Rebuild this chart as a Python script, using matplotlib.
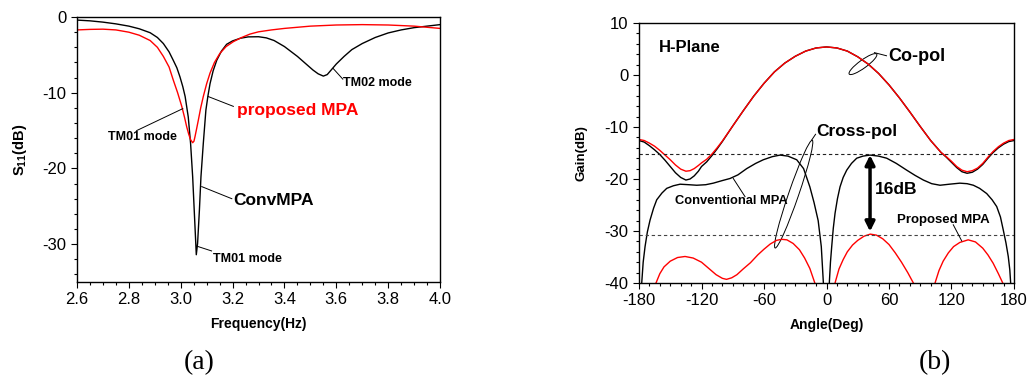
import matplotlib
matplotlib.use("Agg")
import matplotlib.pyplot as plt
from matplotlib.patches import Ellipse
from matplotlib.transforms import ScaledTranslation
from matplotlib.ticker import MultipleLocator, FormatStrFormatter

plt.rcParams["font.family"] = ["Liberation Sans", "DejaVu Sans"]
plt.rcParams["axes.unicode_minus"] = False
plt.rcParams["mathtext.fontset"] = "custom"
plt.rcParams["mathtext.rm"] = "Liberation Sans:bold"
plt.rcParams["mathtext.bf"] = "Liberation Sans:bold"

# ---- (a) S11 vs frequency ----
conv_f = [2.60, 2.65, 2.70, 2.75, 2.80, 2.84, 2.882, 2.91, 2.933, 2.955, 2.971, 2.985,
          2.997, 3.008, 3.017, 3.029, 3.038, 3.046, 3.052, 3.058, 3.060, 3.065, 3.072,
          3.078, 3.087, 3.097, 3.105, 3.113, 3.125, 3.139, 3.157, 3.177, 3.20, 3.23,
          3.26, 3.30, 3.33, 3.36, 3.40, 3.45, 3.48, 3.51, 3.53, 3.55, 3.565, 3.58,
          3.60, 3.63, 3.66, 3.70, 3.75, 3.80, 3.85, 3.90, 3.95, 4.00]
conv_s11 = [-0.4, -0.5, -0.67, -0.9, -1.2, -1.55, -2.07, -2.7, -3.5, -4.6, -5.7, -6.7,
            -7.9, -9.2, -10.5, -13.2, -16.7, -21.1, -25.5, -29.9, -31.4, -29.9, -25.5,
            -21.1, -16.7, -12.3, -10.4, -8.8, -7.1, -5.7, -4.5, -3.6, -3.15, -2.8,
            -2.62, -2.6, -2.75, -3.1, -3.9, -5.2, -6.1, -7.0, -7.5, -7.8, -7.6, -7.0,
            -6.2, -5.2, -4.3, -3.5, -2.7, -2.1, -1.7, -1.4, -1.2, -1.0]

prop_f = [2.60, 2.65, 2.70, 2.75, 2.80, 2.84, 2.882, 2.91, 2.933, 2.955, 2.971, 2.988,
          3.004, 3.015, 3.023, 3.031, 3.038, 3.046, 3.051, 3.055, 3.061, 3.068, 3.077,
          3.087, 3.10, 3.113, 3.13, 3.151, 3.175, 3.203, 3.235, 3.267, 3.30, 3.35,
          3.40, 3.45, 3.50, 3.60, 3.70, 3.80, 3.90, 4.00]
prop_s11 = [-1.7, -1.63, -1.6, -1.7, -2.0, -2.4, -3.1, -4.0, -5.2, -6.6, -8.3, -10.0,
            -11.8, -13.3, -14.5, -15.5, -16.2, -16.6, -16.4, -15.8, -14.8, -13.6, -12.0,
            -10.5, -8.8, -7.4, -6.0, -4.8, -3.9, -3.25, -2.7, -2.25, -1.95, -1.7,
            -1.5, -1.35, -1.2, -1.05, -1.0, -1.05, -1.2, -1.5]

# ---- (b) H-plane pattern ----
co_ang = [-180, -175, -170, -165, -160, -155, -150, -145, -140, -135, -131, -127, -123,
          -120, -115, -110, -105, -100, -90, -80, -70, -60, -50, -40, -30, -20, -10,
          0, 10, 20, 30, 40, 50, 60, 70, 80, 90, 100, 110, 115, 120, 125, 130, 135,
          140, 145, 150, 155, 160, 165, 170, 175, 180]
co_conv = [-12.6, -12.9, -13.6, -14.4, -15.3, -16.4, -17.6, -18.8, -19.7, -20.2, -20.0,
           -19.4, -18.5, -17.6, -16.7, -15.5, -14.2, -12.8, -9.8, -6.9, -4.1, -1.6,
           0.6, 2.3, 3.6, 4.6, 5.2, 5.4, 5.2, 4.6, 3.5, 2.1, 0.3, -1.9, -4.4, -7.1,
           -9.9, -12.6, -14.9, -15.8, -16.8, -17.8, -18.6, -18.9, -18.7, -18.1, -17.2,
           -16.0, -14.9, -14.0, -13.3, -12.8, -12.6]
co_prop = [-12.4, -12.6, -13.1, -13.7, -14.5, -15.4, -16.3, -17.3, -18.1, -18.5, -18.4,
           -18.0, -17.4, -16.9, -16.2, -15.2, -14.0, -12.7, -9.8, -6.9, -4.1, -1.6,
           0.6, 2.3, 3.6, 4.6, 5.2, 5.4, 5.2, 4.6, 3.5, 2.1, 0.3, -1.9, -4.4, -7.1,
           -9.9, -12.6, -14.9, -15.7, -16.6, -17.6, -18.3, -18.6, -18.4, -17.9, -17.0,
           -15.8, -14.7, -13.8, -13.1, -12.6, -12.4]

xc_ang_1 = [-177.4, -176, -174.2, -172, -169.4, -166, -163, -158, -153.4, -147, -140.6,
            -132, -124.6, -116, -108.7, -100, -92.6, -85, -76.6, -68, -60.7, -52,
            -44.6, -37, -28.6, -22, -16, -12, -8, -5, -3]
xc_conv_1 = [-40, -36, -33.0, -30.2, -27.9, -25.6, -24.0, -22.7, -21.8, -21.3, -21.0,
             -21.1, -21.2, -21.1, -20.8, -20.3, -19.9, -19.2, -18.0, -17.0, -16.3, -15.7,
             -15.4, -15.6, -16.3, -18.0, -21.5, -24.5, -28, -33, -40]
xc_ang_2 = [2.7, 3.8, 5.0, 6.5, 8.2, 10.5, 13, 16, 19.4, 24, 29, 35, 41.8, 50, 57.8,
            67, 77, 85, 93, 101, 109, 118, 128, 135, 141, 147, 153.8, 159, 163.4, 167,
            169.7, 172.3, 174.5, 176, 176.8]
xc_conv_2 = [-40, -36, -33.0, -29.5, -26.6, -23.8, -21.5, -19.7, -18.3, -17.0, -16.0,
             -15.6, -15.4, -15.6, -16.0, -17.0, -18.3, -19.3, -20.2, -20.9, -21.2, -21.0,
             -20.8, -20.9, -21.2, -21.8, -22.8, -24.0, -25.3, -27.3, -29.8, -32.3, -34.9,
             -37.5, -40]

xp_ang_1 = [-163.7, -160, -156, -150, -143, -135.8, -128, -120, -113, -106, -100, -96,
            -91, -86, -80, -73, -66, -60, -54, -48, -43, -38, -32, -26, -21, -16, -11.2]
xp_prop_1 = [-40, -38.2, -36.9, -35.8, -35.1, -34.9, -35.2, -36.0, -37.2, -38.4, -39.1,
             -39.3, -39.0, -38.4, -37.3, -36.1, -34.6, -33.5, -32.5, -31.8, -31.6, -31.7,
             -32.4, -33.6, -35.2, -37.2, -40]
xp_ang_2 = [8.2, 12, 16, 20, 25, 30, 36, 42, 48, 54, 60, 66, 72, 78, 83.4]
xp_prop_2 = [-40, -37.3, -35.5, -34.0, -32.7, -31.8, -31.0, -30.6, -30.8, -31.5, -32.6,
             -34.2, -36.0, -38.0, -40]
xp_ang_3 = [104.2, 108, 112, 117, 122, 128, 136, 143, 150, 155, 160, 165, 169.2]
xp_prop_3 = [-40, -37.6, -35.8, -34.2, -33.0, -32.2, -31.7, -32.1, -33.3, -34.6, -36.2,
             -38.2, -40]

ref_levels = [-15.2, -30.8]

fig = plt.figure(figsize=(10.31, 3.79), dpi=100)
ax1 = fig.add_axes([0.0747, 0.256, 0.3521, 0.699])
ax2 = fig.add_axes([0.6198, 0.2533, 0.3637, 0.6860])

lw = 1.0
ax1.plot(conv_f, conv_s11, color="black", lw=lw)
ax1.plot(prop_f, prop_s11, color="red", lw=lw)
ax1.set_xlim(2.6, 4.0)
ax1.set_ylim(-35, 0)
ax1.xaxis.set_major_locator(MultipleLocator(0.2))
ax1.xaxis.set_minor_locator(MultipleLocator(0.05))
ax1.xaxis.set_major_formatter(FormatStrFormatter("%.1f"))
ax1.yaxis.set_major_locator(MultipleLocator(10))
ax1.yaxis.set_minor_locator(MultipleLocator(2))
ax1.set_xlabel("Frequency(Hz)", fontsize=10, fontweight="bold", labelpad=7)
ax1.set_ylabel("S$_{11}$(dB)", fontsize=10.5, fontweight="bold", labelpad=10)

bold = dict(fontweight="bold", va="center", ha="left")
line = dict(color="black", lw=0.7)
ax1.plot([3.588, 3.625], [-6.8, -8.2], **line)
ax1.text(3.625, -8.7, "TM02 mode", fontsize=9, **bold)
ax1.plot([3.106, 3.203], [-10.5, -11.8], **line)
ax1.text(3.218, -12.4, "proposed MPA", fontsize=12.5, color="red", **bold)
ax1.plot([2.830, 3.008], [-15.0, -12.1], **line)
ax1.text(2.721, -15.8, "TM01 mode", fontsize=9, **bold)
ax1.plot([3.081, 3.197], [-22.4, -24.0], **line)
ax1.text(3.203, -24.2, "ConvMPA", fontsize=12.5, **bold)
ax1.plot([3.065, 3.119], [-30.3, -30.9], **line)
ax1.text(3.123, -31.9, "TM01 mode", fontsize=9, **bold)

ax2.plot(co_ang, co_conv, color="black", lw=lw)
ax2.plot(co_ang, co_prop, color="red", lw=lw)
ax2.plot(xc_ang_1, xc_conv_1, color="black", lw=lw)
ax2.plot(xc_ang_2, xc_conv_2, color="black", lw=lw)
for a, v in [(xp_ang_1, xp_prop_1), (xp_ang_2, xp_prop_2), (xp_ang_3, xp_prop_3)]:
    ax2.plot(a, v, color="red", lw=lw)
for lev, c in zip(ref_levels, ["#222222", "#444444"]):
    ax2.axhline(lev, color=c, lw=0.8, ls=(0, (3, 2.5)))
ax2.set_xlim(-180, 180)
ax2.set_ylim(-40, 10)
ax2.xaxis.set_major_locator(MultipleLocator(60))
ax2.xaxis.set_minor_locator(MultipleLocator(10))
ax2.yaxis.set_major_locator(MultipleLocator(10))
ax2.yaxis.set_minor_locator(MultipleLocator(2))
ax2.set_xlabel("Angle(Deg)", fontsize=10, fontweight="bold", labelpad=7)
ax2.set_ylabel("Gain(dB)", fontsize=9.5, fontweight="bold", labelpad=12)

ax2.text(-160.8, 5.2, "H-Plane", fontsize=12, **bold)
ax2.text(59, 3.5, "Co-pol", fontsize=13, **bold)
ax2.text(-10, -10.8, "Cross-pol", fontsize=12.5, **bold)
ax2.text(46.6, -22.1, "16dB", fontsize=12.5, **bold)
ax2.text(-145.4, -24.2, "Conventional MPA", fontsize=9.3, **bold)
ax2.text(67.4, -27.8, "Proposed MPA", fontsize=9.5, **bold)
ax2.plot([-89.5, -78.2], [-19.9, -23.4], **line)
ax2.plot([121.7, 129.8], [-28.8, -31.9], **line)
ax2.plot([46.0, 57.6], [4.3, 3.7], **line)
ax2.plot([-14.2, -10.5], [-12.5, -11.4], **line)

# leader loops, sized in inches around a data point
for (cx, cy), w, h, ang in [((35, 2.1), 0.34, 0.08, 36), ((-31.5, -22.9), 1.14, 0.10, 71)]:
    tr = fig.dpi_scale_trans + ScaledTranslation(cx, cy, ax2.transData)
    ax2.add_patch(Ellipse((0, 0), w, h, angle=ang, transform=tr,
                          fill=False, color="black", lw=0.7, clip_on=False))

ax2.annotate("", xy=(41.8, -15.4), xytext=(41.8, -30.1),
             arrowprops=dict(arrowstyle="<|-|>", color="black", lw=2.5,
                             mutation_scale=14, shrinkA=0, shrinkB=0))

for ax in (ax1, ax2):
    ax.tick_params(which="both", direction="out", top=False, right=False,
                   labelsize=12, width=0.8)
    ax.tick_params(which="major", length=4.5, pad=3)
    ax.tick_params(which="minor", length=2.2)
    for s in ax.spines.values():
        s.set_linewidth(1.0)

fig.text(199 / 1031, 1 - 363 / 379, "(a)", fontsize=20, family="Liberation Serif",
         ha="center", va="center")
fig.text(935 / 1031, 1 - 363 / 379, "(b)", fontsize=20, family="Liberation Serif",
         ha="center", va="center")

fig.savefig("out.png", dpi=100)
